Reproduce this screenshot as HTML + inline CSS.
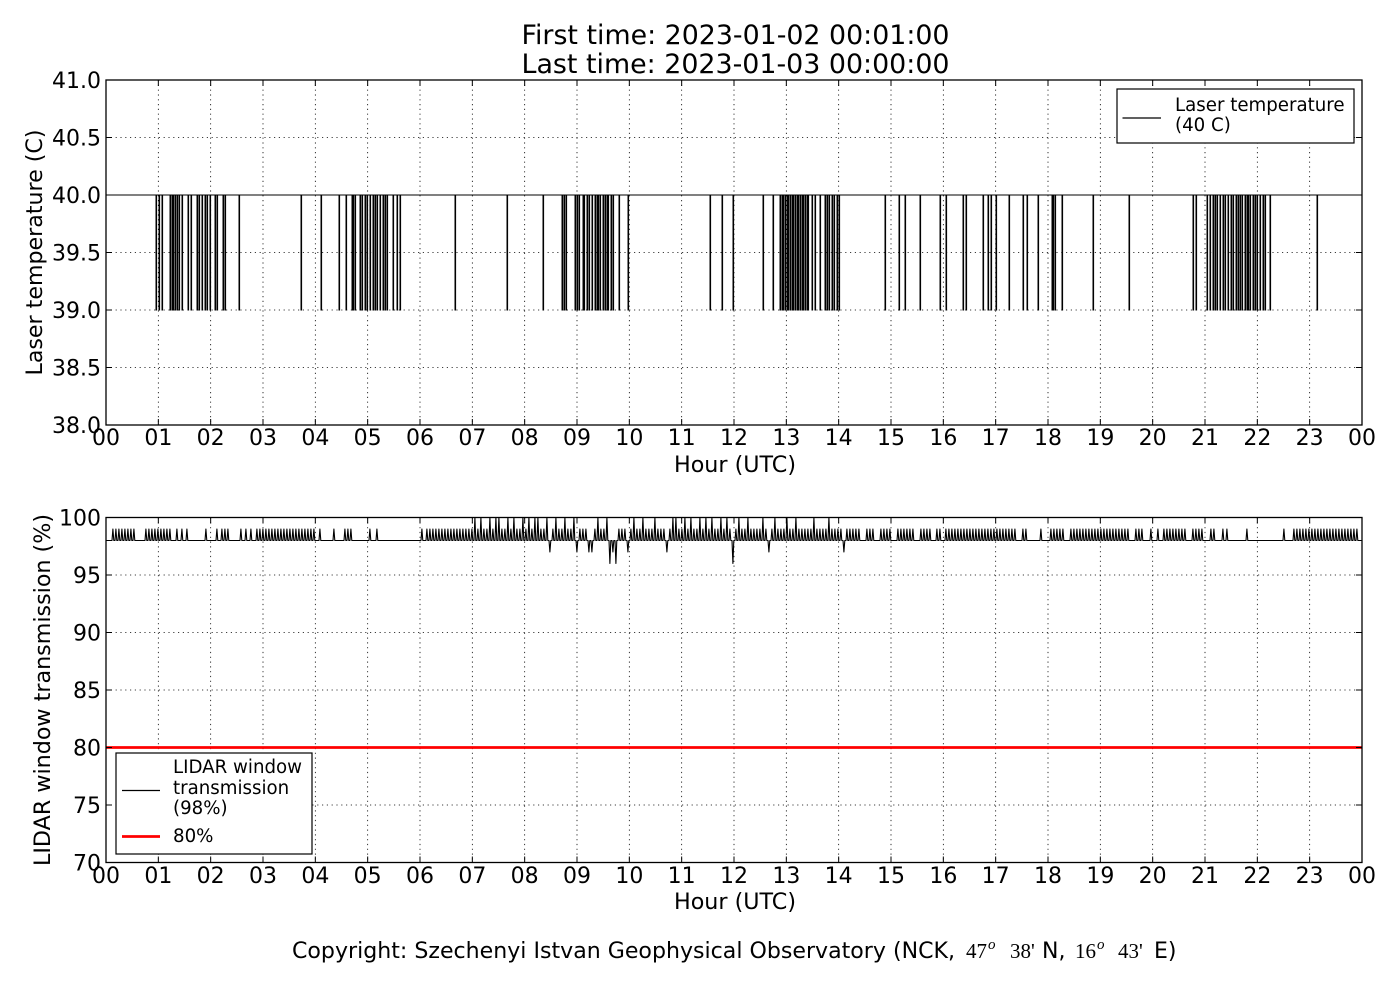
<!DOCTYPE html>
<html><head><meta charset="utf-8"><style>
html,body{margin:0;padding:0;background:#fff;}
svg{display:block;}
text{font-family:"DejaVu Sans","Liberation Sans",sans-serif;fill:#000;}
.t{font-size:22px;}
.lg{font-size:18.2px;}
.sr{font-family:"Liberation Serif","DejaVu Serif",serif;}
</style></head><body>
<svg width="1400" height="1000" viewBox="0 0 1400 1000" xmlns="http://www.w3.org/2000/svg">
<rect width="1400" height="1000" fill="#fff"/>
<text x="735.5" y="44" font-size="26.5" text-anchor="middle" textLength="428" lengthAdjust="spacingAndGlyphs">First time: 2023-01-02 00:01:00</text>
<text x="735.5" y="73" font-size="26.5" text-anchor="middle" textLength="428" lengthAdjust="spacingAndGlyphs">Last time: 2023-01-03 00:00:00</text>

<!-- ========== TOP AXES ========== -->
<g stroke="#000" stroke-width="0.8" stroke-dasharray="1.2,3.6" fill="none">
<path d="M158.33,80V425M210.67,80V425M263,80V425M315.33,80V425M367.67,80V425M420,80V425M472.33,80V425M524.67,80V425M577,80V425M629.33,80V425M681.67,80V425M734,80V425M786.33,80V425M838.67,80V425M891,80V425M943.33,80V425M995.67,80V425M1048,80V425M1100.33,80V425M1152.67,80V425M1205,80V425M1257.33,80V425M1309.67,80V425"/>
<path d="M106,137.5H1362M106,195H1362M106,252.5H1362M106,310H1362M106,367.5H1362"/>
</g>
<path fill="none" stroke="#000" stroke-width="1" d="M106,195H156V310h0.6V195H159V310h0.6V195H162V310h0.6V195H170V310h0.6V195H172V310h0.6V195H173V310h0.6V195H175V310h0.6V195H177V310h0.6V195H179V310h0.6V195H182V310h0.6V195H188V310h0.6V195H191V310h0.6V195H197V310h0.6V195H199V310h0.6V195H202V310h0.6V195H205V310h0.6V195H207V310h0.6V195H210V310h0.6V195H215V310h0.6V195H217V310h0.6V195H223V310h0.6V195H225V310h0.6V195H239V310h0.6V195H301V310h0.6V195H321V310h0.6V195H339V310h0.6V195H346V310h0.6V195H352V310h0.6V195H353V310h0.6V195H355V310h0.6V195H360V310h0.6V195H362V310h0.6V195H365V310h0.6V195H367V310h0.6V195H370V310h0.6V195H373V310h0.6V195H375V310h0.6V195H377V310h0.6V195H380V310h0.6V195H383V310h0.6V195H385V310h0.6V195H387V310h0.6V195H393V310h0.6V195H397V310h0.6V195H400V310h0.6V195H455V310h0.6V195H507V310h0.6V195H543V310h0.6V195H562V310h0.6V195H564V310h0.6V195H566V310h0.6V195H575V310h0.6V195H577V310h0.6V195H579V310h0.6V195H583V310h0.6V195H584V310h0.6V195H587V310h0.6V195H589V310h0.6V195H592V310h0.6V195H595V310h0.6V195H597V310h0.6V195H598V310h0.6V195H600V310h0.6V195H603V310h0.6V195H605V310h0.6V195H607V310h0.6V195H608V310h0.6V195H611V310h0.6V195H613V310h0.6V195H619V310h0.6V195H628V310h0.6V195H710V310h0.6V195H722V310h0.6V195H733V310h0.6V195H763V310h0.6V195H773V310h0.6V195H780V310h0.6V195H782V310h0.6V195H783V310h0.6V195H785V310h0.6V195H787V310h0.6V195H788V310h0.6V195H790V310h0.6V195H792V310h0.6V195H793V310h0.6V195H795V310h0.6V195H797V310h0.6V195H798V310h0.6V195H800V310h0.6V195H802V310h0.6V195H803V310h0.6V195H805V310h0.6V195H807V310h0.6V195H808V310h0.6V195H812V310h0.6V195H815V310h0.6V195H820V310h0.6V195H825V310h0.6V195H827V310h0.6V195H829V310h0.6V195H832V310h0.6V195H834V310h0.6V195H837V310h0.6V195H839V310h0.6V195H885V310h0.6V195H899V310h0.6V195H905V310h0.6V195H920V310h0.6V195H940V310h0.6V195H946V310h0.6V195H963V310h0.6V195H966V310h0.6V195H983V310h0.6V195H988V310h0.6V195H991V310h0.6V195H996V310h0.6V195H1009V310h0.6V195H1023V310h0.6V195H1027V310h0.6V195H1038V310h0.6V195H1052V310h0.6V195H1053V310h0.6V195H1055V310h0.6V195H1062V310h0.6V195H1093V310h0.6V195H1129V310h0.6V195H1193V310h0.6V195H1196V310h0.6V195H1207V310h0.6V195H1210V310h0.6V195H1213V310h0.6V195H1215V310h0.6V195H1217V310h0.6V195H1220V310h0.6V195H1223V310h0.6V195H1225V310h0.6V195H1228V310h0.6V195H1231V310h0.6V195H1233V310h0.6V195H1236V310h0.6V195H1238V310h0.6V195H1240V310h0.6V195H1242V310h0.6V195H1245V310h0.6V195H1247V310h0.6V195H1248V310h0.6V195H1250V310h0.6V195H1253V310h0.6V195H1255V310h0.6V195H1257V310h0.6V195H1260V310h0.6V195H1263V310h0.6V195H1265V310h0.6V195H1270V310h0.6V195H1317V310h0.6V195H1362"/>
<rect x="106" y="80" width="1256" height="345" fill="none" stroke="#000" stroke-width="1.3"/>
<path stroke="#000" stroke-width="1" fill="none" d="M158.33,425v-6M210.67,425v-6M263,425v-6M315.33,425v-6M367.67,425v-6M420,425v-6M472.33,425v-6M524.67,425v-6M577,425v-6M629.33,425v-6M681.67,425v-6M734,425v-6M786.33,425v-6M838.67,425v-6M891,425v-6M943.33,425v-6M995.67,425v-6M1048,425v-6M1100.33,425v-6M1152.67,425v-6M1205,425v-6M1257.33,425v-6M1309.67,425v-6M158.33,80v6M210.67,80v6M263,80v6M315.33,80v6M367.67,80v6M420,80v6M472.33,80v6M524.67,80v6M577,80v6M629.33,80v6M681.67,80v6M734,80v6M786.33,80v6M838.67,80v6M891,80v6M943.33,80v6M995.67,80v6M1048,80v6M1100.33,80v6M1152.67,80v6M1205,80v6M1257.33,80v6M1309.67,80v6M106,137.5h6M106,195h6M106,252.5h6M106,310h6M106,367.5h6M1362,137.5h-6M1362,195h-6M1362,252.5h-6M1362,310h-6M1362,367.5h-6"/>
<g class="t" text-anchor="end">
<text x="101" y="88">41.0</text>
<text x="101" y="145.5">40.5</text>
<text x="101" y="203">40.0</text>
<text x="101" y="260.5">39.5</text>
<text x="101" y="318">39.0</text>
<text x="101" y="375.5">38.5</text>
<text x="101" y="433">38.0</text>
</g>
<g class="t" text-anchor="middle">
<text x="106" y="445">00</text><text x="158.33" y="445">01</text><text x="210.67" y="445">02</text><text x="263" y="445">03</text><text x="315.33" y="445">04</text><text x="367.67" y="445">05</text><text x="420" y="445">06</text><text x="472.33" y="445">07</text><text x="524.67" y="445">08</text><text x="577" y="445">09</text><text x="629.33" y="445">10</text><text x="681.67" y="445">11</text><text x="734" y="445">12</text><text x="786.33" y="445">13</text><text x="838.67" y="445">14</text><text x="891" y="445">15</text><text x="943.33" y="445">16</text><text x="995.67" y="445">17</text><text x="1048" y="445">18</text><text x="1100.33" y="445">19</text><text x="1152.67" y="445">20</text><text x="1205" y="445">21</text><text x="1257.33" y="445">22</text><text x="1309.67" y="445">23</text><text x="1362" y="445">00</text>
</g>
<text class="t" x="735" y="472" text-anchor="middle" textLength="122" lengthAdjust="spacingAndGlyphs">Hour (UTC)</text>
<text class="t" transform="translate(42,252.5) rotate(-90)" text-anchor="middle" textLength="246" lengthAdjust="spacingAndGlyphs">Laser temperature (C)</text>
<rect x="1117" y="89" width="237" height="54" fill="#fff" stroke="#000" stroke-width="1.2"/>
<path d="M1122.5,118H1161" stroke="#000" stroke-width="1.3"/>
<text class="lg" x="1175" y="111">Laser temperature</text>
<text class="lg" x="1175" y="131">(40 C)</text>

<!-- ========== BOTTOM AXES ========== -->
<g stroke="#000" stroke-width="0.8" stroke-dasharray="1.2,3.6" fill="none">
<path d="M158.33,517.5V862.5M210.67,517.5V862.5M263,517.5V862.5M315.33,517.5V862.5M367.67,517.5V862.5M420,517.5V862.5M472.33,517.5V862.5M524.67,517.5V862.5M577,517.5V862.5M629.33,517.5V862.5M681.67,517.5V862.5M734,517.5V862.5M786.33,517.5V862.5M838.67,517.5V862.5M891,517.5V862.5M943.33,517.5V862.5M995.67,517.5V862.5M1048,517.5V862.5M1100.33,517.5V862.5M1152.67,517.5V862.5M1205,517.5V862.5M1257.33,517.5V862.5M1309.67,517.5V862.5"/>
<path d="M106,575H1362M106,632.5H1362M106,690H1362M106,747.5H1362M106,805H1362"/>
</g>
<path fill="none" stroke="#000" stroke-width="1.1" stroke-linejoin="round" d="M106,540.5H112l0.9,-11.5l0.9,11.5h1.2l0.9,-11.5l0.9,11.5h1.2l0.9,-11.5l0.9,11.5h1.2l0.9,-11.5l0.9,11.5h1.2l0.9,-11.5l0.9,11.5h1.2l0.9,-11.5l0.9,11.5h1.2l0.9,-11.5l0.9,11.5h1.2l0.9,-11.5l0.9,11.5h1.2H145l0.9,-11.5l0.9,11.5h1.2l0.9,-11.5l0.9,11.5h1.2l0.9,-11.5l0.9,11.5h1.2l0.9,-11.5l0.9,11.5h1.2l0.9,-11.5l0.9,11.5h1.2l0.9,-11.5l0.9,11.5h1.2l0.9,-11.5l0.9,11.5h1.2l0.9,-11.5l0.9,11.5h1.2l0.9,-11.5l0.9,11.5h1.2H176l0.9,-11.5l0.9,11.5h1.2H181l0.9,-11.5l0.9,11.5h1.2H186l0.9,-11.5l0.9,11.5h1.2H205l0.9,-11.5l0.9,11.5h1.2H216l0.9,-11.5l0.9,11.5h1.2H221l0.9,-11.5l0.9,11.5h1.2H224l0.9,-11.5l0.9,11.5h1.2l0.9,-11.5l0.9,11.5h1.2H240l0.9,-11.5l0.9,11.5h1.2H245l0.9,-11.5l0.9,11.5h1.2H250l0.9,-11.5l0.9,11.5h1.2H256l0.9,-11.5l0.9,11.5h1.2l0.9,-11.5l0.9,11.5h1.2l0.9,-11.5l0.9,11.5h1.2l0.9,-11.5l0.9,11.5h1.2l0.9,-11.5l0.9,11.5h1.2l0.9,-11.5l0.9,11.5h1.2l0.9,-11.5l0.9,11.5h1.2l0.9,-11.5l0.9,11.5h1.2l0.9,-11.5l0.9,11.5h1.2l0.9,-11.5l0.9,11.5h1.2l0.9,-11.5l0.9,11.5h1.2l0.9,-11.5l0.9,11.5h1.2l0.9,-11.5l0.9,11.5h1.2l0.9,-11.5l0.9,11.5h1.2l0.9,-11.5l0.9,11.5h1.2l0.9,-11.5l0.9,11.5h1.2l0.9,-11.5l0.9,11.5h1.2l0.9,-11.5l0.9,11.5h1.2l0.9,-11.5l0.9,11.5h1.2l0.9,-11.5l0.9,11.5h1.2H319l0.9,-11.5l0.9,11.5h1.2H333l0.9,-11.5l0.9,11.5h1.2H344l0.9,-11.5l0.9,11.5h1.2l0.9,-11.5l0.9,11.5h1.2l0.9,-11.5l0.9,11.5h1.2H369l0.9,-11.5l0.9,11.5h1.2H376l0.9,-11.5l0.9,11.5h1.2H421l0.9,-11.5l0.9,11.5h1.2H426l0.9,-11.5l0.9,11.5h1.2l0.9,-11.5l0.9,11.5h1.2l0.9,-11.5l0.9,11.5h1.2l0.9,-11.5l0.9,11.5h1.2l0.9,-11.5l0.9,11.5h1.2l0.9,-11.5l0.9,11.5h1.2l0.9,-11.5l0.9,11.5h1.2l0.9,-11.5l0.9,11.5h1.2l0.9,-11.5l0.9,11.5h1.2l0.9,-11.5l0.9,11.5h1.2l0.9,-11.5l0.9,11.5h1.2l0.9,-11.5l0.9,11.5h1.2l0.9,-11.5l0.9,11.5h1.2l0.9,-11.5l0.9,11.5h1.2l0.9,-11.5l0.9,11.5h1.2l0.9,-11.5l0.9,11.5h1.2H474l0.9,-23l0.9,23h1.2l0.9,-11.5l0.9,11.5h1.2l0.9,-23l0.9,23h1.2l0.9,-11.5l0.9,11.5h1.2l0.9,-11.5l0.9,11.5h1.2l0.9,-23l0.9,23h1.2l0.9,-11.5l0.9,11.5h1.2l0.9,-23l0.9,23h1.2l0.9,-23l0.9,23h1.2l0.9,-11.5l0.9,11.5h1.2l0.9,-11.5l0.9,11.5h1.2l0.9,-23l0.9,23h1.2l0.9,-11.5l0.9,11.5h1.2l0.9,-23l0.9,23h1.2l0.9,-11.5l0.9,11.5h1.2l0.9,-11.5l0.9,11.5h1.2l0.9,-23l0.9,23h1.2H525l0.9,-11.5l0.9,11.5h1.2l0.9,-23l0.9,23h1.2l0.9,-11.5l0.9,11.5h1.2l0.9,-23l0.9,23h1.2l0.9,-23l0.9,23h1.2l0.9,-11.5l0.9,11.5h1.2l0.9,-11.5l0.9,11.5h1.2l0.9,-23l0.9,23h1.2l0.9,11.5l0.9,-11.5h1.2l0.9,-11.5l0.9,11.5h1.2l0.9,-23l0.9,23h1.2l0.9,-11.5l0.9,11.5h1.2l0.9,-11.5l0.9,11.5h1.2l0.9,-23l0.9,23h1.2l0.9,-11.5l0.9,11.5h1.2l0.9,-11.5l0.9,11.5h1.2l0.9,-23l0.9,23h1.2l0.9,11.5l0.9,-11.5h1.2l0.9,-11.5l0.9,11.5h1.2l0.9,-11.5l0.9,11.5h1.2l0.9,-11.5l0.9,11.5h1.2l0.9,11.5l0.9,-11.5h1.2l0.9,11.5l0.9,-11.5h1.2l0.9,-11.5l0.9,11.5h1.2l0.9,-23l0.9,23h1.2l0.9,-11.5l0.9,11.5h1.2l0.9,-11.5l0.9,11.5h1.2l0.9,-23l0.9,23h1.2l0.9,23l0.9,-23h1.2l0.9,11.5l0.9,-11.5h1.2l0.9,23l0.9,-23h1.2l0.9,-11.5l0.9,11.5h1.2l0.9,-11.5l0.9,11.5h1.2l0.9,-11.5l0.9,11.5h1.2l0.9,11.5l0.9,-11.5h1.2l0.9,-11.5l0.9,11.5h1.2l0.9,-23l0.9,23h1.2l0.9,-11.5l0.9,11.5h1.2l0.9,-11.5l0.9,11.5h1.2l0.9,-23l0.9,23h1.2l0.9,-11.5l0.9,11.5h1.2l0.9,-11.5l0.9,11.5h1.2l0.9,-11.5l0.9,11.5h1.2l0.9,-23l0.9,23h1.2l0.9,-11.5l0.9,11.5h1.2l0.9,-11.5l0.9,11.5h1.2l0.9,-11.5l0.9,11.5h1.2l0.9,11.5l0.9,-11.5h1.2l0.9,-11.5l0.9,11.5h1.2l0.9,-23l0.9,23h1.2l0.9,-23l0.9,23h1.2l0.9,-11.5l0.9,11.5h1.2l0.9,-11.5l0.9,11.5h1.2l0.9,-23l0.9,23h1.2l0.9,-11.5l0.9,11.5h1.2l0.9,-23l0.9,23h1.2l0.9,-11.5l0.9,11.5h1.2l0.9,-11.5l0.9,11.5h1.2l0.9,-23l0.9,23h1.2l0.9,-11.5l0.9,11.5h1.2l0.9,-23l0.9,23h1.2l0.9,-11.5l0.9,11.5h1.2l0.9,-23l0.9,23h1.2l0.9,-11.5l0.9,11.5h1.2l0.9,-11.5l0.9,11.5h1.2l0.9,-23l0.9,23h1.2l0.9,-11.5l0.9,11.5h1.2l0.9,-23l0.9,23h1.2l0.9,-11.5l0.9,11.5h1.2l0.9,23l0.9,-23h1.2l0.9,-11.5l0.9,11.5h1.2l0.9,-23l0.9,23h1.2l0.9,-11.5l0.9,11.5h1.2l0.9,-11.5l0.9,11.5h1.2l0.9,-23l0.9,23h1.2l0.9,-11.5l0.9,11.5h1.2l0.9,-11.5l0.9,11.5h1.2l0.9,-11.5l0.9,11.5h1.2l0.9,-11.5l0.9,11.5h1.2l0.9,-23l0.9,23h1.2l0.9,-11.5l0.9,11.5h1.2l0.9,11.5l0.9,-11.5h1.2l0.9,-11.5l0.9,11.5h1.2l0.9,-23l0.9,23h1.2l0.9,-11.5l0.9,11.5h1.2l0.9,-11.5l0.9,11.5h1.2l0.9,-11.5l0.9,11.5h1.2l0.9,-23l0.9,23h1.2l0.9,-11.5l0.9,11.5h1.2l0.9,-11.5l0.9,11.5h1.2l0.9,-23l0.9,23h1.2l0.9,-11.5l0.9,11.5h1.2l0.9,-11.5l0.9,11.5h1.2l0.9,-11.5l0.9,11.5h1.2l0.9,-11.5l0.9,11.5h1.2l0.9,-11.5l0.9,11.5h1.2l0.9,-23l0.9,23h1.2l0.9,-11.5l0.9,11.5h1.2l0.9,-11.5l0.9,11.5h1.2l0.9,-11.5l0.9,11.5h1.2l0.9,-11.5l0.9,11.5h1.2l0.9,-23l0.9,23h1.2l0.9,-11.5l0.9,11.5h1.2l0.9,-11.5l0.9,11.5h1.2l0.9,-11.5l0.9,11.5h1.2l0.9,-11.5l0.9,11.5h1.2l0.9,11.5l0.9,-11.5h1.2l0.9,-11.5l0.9,11.5h1.2l0.9,-11.5l0.9,11.5h1.2l0.9,-11.5l0.9,11.5h1.2l0.9,-11.5l0.9,11.5h1.2l0.9,-11.5l0.9,11.5h1.2H866l0.9,-11.5l0.9,11.5h1.2l0.9,-11.5l0.9,11.5h1.2l0.9,-11.5l0.9,11.5h1.2H880l0.9,-11.5l0.9,11.5h1.2l0.9,-11.5l0.9,11.5h1.2l0.9,-11.5l0.9,11.5h1.2l0.9,-11.5l0.9,11.5h1.2H897l0.9,-11.5l0.9,11.5h1.2l0.9,-11.5l0.9,11.5h1.2l0.9,-11.5l0.9,11.5h1.2l0.9,-11.5l0.9,11.5h1.2l0.9,-11.5l0.9,11.5h1.2l0.9,-11.5l0.9,11.5h1.2H920l0.9,-11.5l0.9,11.5h1.2l0.9,-11.5l0.9,11.5h1.2l0.9,-11.5l0.9,11.5h1.2l0.9,-11.5l0.9,11.5h1.2H936l0.9,-11.5l0.9,11.5h1.2l0.9,-11.5l0.9,11.5h1.2H945l0.9,-11.5l0.9,11.5h1.2l0.9,-11.5l0.9,11.5h1.2l0.9,-11.5l0.9,11.5h1.2l0.9,-11.5l0.9,11.5h1.2l0.9,-11.5l0.9,11.5h1.2l0.9,-11.5l0.9,11.5h1.2l0.9,-11.5l0.9,11.5h1.2l0.9,-11.5l0.9,11.5h1.2l0.9,-11.5l0.9,11.5h1.2l0.9,-11.5l0.9,11.5h1.2l0.9,-11.5l0.9,11.5h1.2l0.9,-11.5l0.9,11.5h1.2l0.9,-11.5l0.9,11.5h1.2l0.9,-11.5l0.9,11.5h1.2l0.9,-11.5l0.9,11.5h1.2l0.9,-11.5l0.9,11.5h1.2l0.9,-11.5l0.9,11.5h1.2l0.9,-11.5l0.9,11.5h1.2l0.9,-11.5l0.9,11.5h1.2l0.9,-11.5l0.9,11.5h1.2l0.9,-11.5l0.9,11.5h1.2l0.9,-11.5l0.9,11.5h1.2l0.9,-11.5l0.9,11.5h1.2l0.9,-11.5l0.9,11.5h1.2H1022l0.9,-11.5l0.9,11.5h1.2l0.9,-11.5l0.9,11.5h1.2H1040l0.9,-11.5l0.9,11.5h1.2H1050l0.9,-11.5l0.9,11.5h1.2l0.9,-11.5l0.9,11.5h1.2l0.9,-11.5l0.9,11.5h1.2l0.9,-11.5l0.9,11.5h1.2l0.9,-11.5l0.9,11.5h1.2H1070l0.9,-11.5l0.9,11.5h1.2l0.9,-11.5l0.9,11.5h1.2l0.9,-11.5l0.9,11.5h1.2l0.9,-11.5l0.9,11.5h1.2l0.9,-11.5l0.9,11.5h1.2l0.9,-11.5l0.9,11.5h1.2l0.9,-11.5l0.9,11.5h1.2l0.9,-11.5l0.9,11.5h1.2l0.9,-11.5l0.9,11.5h1.2l0.9,-11.5l0.9,11.5h1.2l0.9,-11.5l0.9,11.5h1.2l0.9,-11.5l0.9,11.5h1.2l0.9,-11.5l0.9,11.5h1.2l0.9,-11.5l0.9,11.5h1.2l0.9,-11.5l0.9,11.5h1.2l0.9,-11.5l0.9,11.5h1.2l0.9,-11.5l0.9,11.5h1.2l0.9,-11.5l0.9,11.5h1.2l0.9,-11.5l0.9,11.5h1.2l0.9,-11.5l0.9,11.5h1.2H1135l0.9,-11.5l0.9,11.5h1.2l0.9,-11.5l0.9,11.5h1.2l0.9,-11.5l0.9,11.5h1.2H1150l0.9,-11.5l0.9,11.5h1.2H1157l0.9,-11.5l0.9,11.5h1.2H1163l0.9,-11.5l0.9,11.5h1.2l0.9,-11.5l0.9,11.5h1.2l0.9,-11.5l0.9,11.5h1.2l0.9,-11.5l0.9,11.5h1.2l0.9,-11.5l0.9,11.5h1.2l0.9,-11.5l0.9,11.5h1.2l0.9,-11.5l0.9,11.5h1.2l0.9,-11.5l0.9,11.5h1.2H1192l0.9,-11.5l0.9,11.5h1.2l0.9,-11.5l0.9,11.5h1.2l0.9,-11.5l0.9,11.5h1.2l0.9,-11.5l0.9,11.5h1.2H1210l0.9,-11.5l0.9,11.5h1.2l0.9,-11.5l0.9,11.5h1.2H1222l0.9,-11.5l0.9,11.5h1.2H1226l0.9,-11.5l0.9,11.5h1.2H1246l0.9,-11.5l0.9,11.5h1.2H1283l0.9,-11.5l0.9,11.5h1.2H1293l0.9,-11.5l0.9,11.5h1.2l0.9,-11.5l0.9,11.5h1.2l0.9,-11.5l0.9,11.5h1.2l0.9,-11.5l0.9,11.5h1.2l0.9,-11.5l0.9,11.5h1.2l0.9,-11.5l0.9,11.5h1.2l0.9,-11.5l0.9,11.5h1.2l0.9,-11.5l0.9,11.5h1.2l0.9,-11.5l0.9,11.5h1.2l0.9,-11.5l0.9,11.5h1.2l0.9,-11.5l0.9,11.5h1.2l0.9,-11.5l0.9,11.5h1.2l0.9,-11.5l0.9,11.5h1.2l0.9,-11.5l0.9,11.5h1.2l0.9,-11.5l0.9,11.5h1.2l0.9,-11.5l0.9,11.5h1.2l0.9,-11.5l0.9,11.5h1.2l0.9,-11.5l0.9,11.5h1.2l0.9,-11.5l0.9,11.5h1.2l0.9,-11.5l0.9,11.5h1.2l0.9,-11.5l0.9,11.5h1.2l0.9,-11.5l0.9,11.5h1.2H1362"/>
<path d="M106,747.5H1362" stroke="#ff0000" stroke-width="2.8"/>
<rect x="106" y="517.5" width="1256" height="345" fill="none" stroke="#000" stroke-width="1.3"/>
<path stroke="#000" stroke-width="1" fill="none" d="M158.33,862.5v-6M210.67,862.5v-6M263,862.5v-6M315.33,862.5v-6M367.67,862.5v-6M420,862.5v-6M472.33,862.5v-6M524.67,862.5v-6M577,862.5v-6M629.33,862.5v-6M681.67,862.5v-6M734,862.5v-6M786.33,862.5v-6M838.67,862.5v-6M891,862.5v-6M943.33,862.5v-6M995.67,862.5v-6M1048,862.5v-6M1100.33,862.5v-6M1152.67,862.5v-6M1205,862.5v-6M1257.33,862.5v-6M1309.67,862.5v-6M158.33,517.5v6M210.67,517.5v6M263,517.5v6M315.33,517.5v6M367.67,517.5v6M420,517.5v6M472.33,517.5v6M524.67,517.5v6M577,517.5v6M629.33,517.5v6M681.67,517.5v6M734,517.5v6M786.33,517.5v6M838.67,517.5v6M891,517.5v6M943.33,517.5v6M995.67,517.5v6M1048,517.5v6M1100.33,517.5v6M1152.67,517.5v6M1205,517.5v6M1257.33,517.5v6M1309.67,517.5v6M106,575h6M106,632.5h6M106,690h6M106,747.5h6M106,805h6M1362,575h-6M1362,632.5h-6M1362,690h-6M1362,747.5h-6M1362,805h-6"/>
<g class="t" text-anchor="end">
<text x="101" y="525.5">100</text>
<text x="101" y="583">95</text>
<text x="101" y="640.5">90</text>
<text x="101" y="698">85</text>
<text x="101" y="755.5">80</text>
<text x="101" y="813">75</text>
<text x="101" y="870.5">70</text>
</g>
<g class="t" text-anchor="middle">
<text x="106" y="883">00</text><text x="158.33" y="883">01</text><text x="210.67" y="883">02</text><text x="263" y="883">03</text><text x="315.33" y="883">04</text><text x="367.67" y="883">05</text><text x="420" y="883">06</text><text x="472.33" y="883">07</text><text x="524.67" y="883">08</text><text x="577" y="883">09</text><text x="629.33" y="883">10</text><text x="681.67" y="883">11</text><text x="734" y="883">12</text><text x="786.33" y="883">13</text><text x="838.67" y="883">14</text><text x="891" y="883">15</text><text x="943.33" y="883">16</text><text x="995.67" y="883">17</text><text x="1048" y="883">18</text><text x="1100.33" y="883">19</text><text x="1152.67" y="883">20</text><text x="1205" y="883">21</text><text x="1257.33" y="883">22</text><text x="1309.67" y="883">23</text><text x="1362" y="883">00</text>
</g>
<text class="t" x="735" y="909" text-anchor="middle" textLength="122" lengthAdjust="spacingAndGlyphs">Hour (UTC)</text>
<text class="t" transform="translate(50,690) rotate(-90)" text-anchor="middle" textLength="352" lengthAdjust="spacingAndGlyphs">LIDAR window transmission (%)</text>
<rect x="116" y="753" width="196" height="101" fill="#fff" stroke="#000" stroke-width="1.2"/>
<path d="M122,790.5H160" stroke="#000" stroke-width="1.3"/>
<path d="M122,836.5H160" stroke="#ff0000" stroke-width="2.8"/>
<text class="lg" x="173" y="773">LIDAR window</text>
<text class="lg" x="173" y="794">transmission</text>
<text class="lg" x="173" y="814">(98%)</text>
<text class="lg" x="173" y="842">80%</text>

<text class="t" x="292" y="958" textLength="663" lengthAdjust="spacingAndGlyphs">Copyright: Szechenyi Istvan Geophysical Observatory (NCK,</text>
<text class="sr" x="966" y="958" font-size="21">47</text>
<text class="sr" x="988" y="949" font-size="15" font-style="italic">o</text>
<text class="sr" x="1010" y="958" font-size="21">38'</text>
<text class="t" x="1042" y="958">N,</text>
<text class="sr" x="1075" y="958" font-size="21">16</text>
<text class="sr" x="1097" y="949" font-size="15" font-style="italic">o</text>
<text class="sr" x="1118" y="958" font-size="21">43'</text>
<text class="t" x="1154" y="958">E)</text>
</svg>
</body></html>
